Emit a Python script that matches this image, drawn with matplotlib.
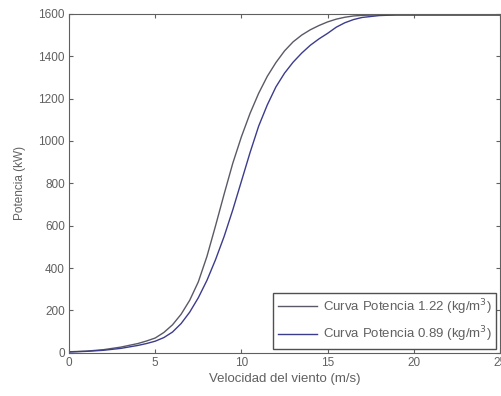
import matplotlib.pyplot as plt
import matplotlib

matplotlib.rcParams['font.family'] = ['Liberation Sans', 'DejaVu Sans']

# wind speed (m/s)
velocidad = [0, 1, 2, 3, 4, 4.5, 5, 5.5, 6, 6.5, 7, 7.5, 8, 8.5, 9, 9.5, 10,
             10.5, 11, 11.5, 12, 12.5, 13, 13.5, 14, 14.5, 15, 15.5, 16, 16.5,
             17, 18, 19, 20, 21, 22, 23, 24, 25]
# power curve rho = 1.22
potencia_122 = [5, 8, 15, 27, 44, 56, 70, 96, 132, 182, 248, 335, 455, 600,
                750, 895, 1020, 1130, 1225, 1305, 1370, 1425, 1468, 1500,
                1525, 1545, 1562, 1575, 1584, 1590, 1593, 1595, 1595, 1595,
                1595, 1595, 1595, 1595, 1595]
# power curve rho = 0.89
potencia_089 = [4, 7, 12, 21, 35, 44, 55, 72, 98, 138, 192, 260, 342, 440,
                550, 675, 810, 945, 1070, 1170, 1255, 1320, 1372, 1415, 1452,
                1482, 1508, 1537, 1558, 1573, 1583, 1592, 1595, 1595, 1595,
                1595, 1595, 1595, 1595]

fig = plt.figure(figsize=(5.02, 3.96), dpi=100)
ax = fig.add_axes([0.1375, 0.109, 0.8585, 0.856])

ax.plot(velocidad, potencia_122, color='#5a5a66', lw=1.0,
        label='Curva Potencia 1.22 (kg/m$^3$)')
ax.plot(velocidad, potencia_089, color='#3c3c8c', lw=1.0,
        label='Curva Potencia 0.89 (kg/m$^3$)')

ax.set_xlim(0, 25)
ax.set_ylim(0, 1600)
ax.set_xticks([0, 5, 10, 15, 20, 25])
ax.set_yticks(range(0, 1601, 200))
ax.tick_params(direction='in', top=True, right=True, labelsize=8.5,
               colors='#606060', length=3, pad=3)
for s in ax.spines.values():
    s.set_color('#606060')

ax.set_xlabel('Velocidad del viento (m/s)', fontsize=9.5, color='#606060',
              labelpad=3)
ax.set_ylabel('Potencia (kW)', fontsize=8.5, color='#606060', labelpad=9)

leg = ax.legend(loc='lower right', fontsize=9.5, fancybox=False,
                edgecolor='#505050', framealpha=1, borderaxespad=0.3,
                handlelength=3.0, handletextpad=0.4, labelspacing=0.6,
                borderpad=0.35)
for t in leg.get_texts():
    t.set_color('#606060')

fig.savefig('out.png', dpi=100)
